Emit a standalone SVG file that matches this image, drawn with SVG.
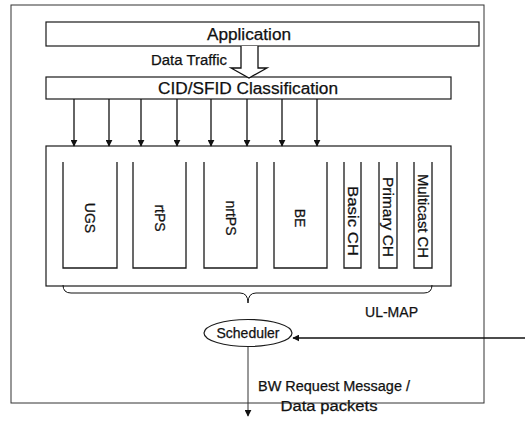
<svg xmlns="http://www.w3.org/2000/svg" width="525" height="426" viewBox="0 0 525 426">
<style>
.box{fill:#fff;stroke:#1a1a1a;stroke-width:1.2}
.bk{fill:none;stroke:#1a1a1a;stroke-width:1.3}
.ln{fill:none;stroke:#111;stroke-width:1.3}
text{font-family:"Liberation Sans",Arial,sans-serif;fill:#111;stroke:#111;stroke-width:0.25}
.t16{font-size:16px}
.t14{font-size:14px}
.vt{font-size:14px;text-anchor:middle;dominant-baseline:central}
</style>
<defs>
<marker id="ah" viewBox="0 0 10 10" refX="9" refY="5" markerWidth="7" markerHeight="7" markerUnits="userSpaceOnUse" orient="auto">
<path d="M0,0 L10,5 L0,10 z" fill="#111"/>
</marker>
</defs>
<rect width="525" height="426" fill="#fff"/>
<g id="outer"><rect class="box" x="11" y="5" width="473" height="398" style="stroke:#333;stroke-width:1"/></g>
<g id="application"><rect class="box" x="46" y="22" width="433" height="24"/><text class="t16" x="249" y="40" text-anchor="middle" textLength="84" lengthAdjust="spacingAndGlyphs">Application</text></g>
<g id="classification"><rect class="box" x="46" y="77" width="405" height="22"/><text class="t16" x="248" y="94" text-anchor="middle" textLength="180" lengthAdjust="spacingAndGlyphs">CID/SFID Classification</text></g>
<g id="queues">
<rect class="box" x="46" y="146" width="405" height="140"/>
<g id="ugs"><path class="bk" d="M63,162 V268 H117 V162"/><text class="vt" transform="translate(90,218) rotate(90)">UGS</text></g>
<g id="rtps"><path class="bk" d="M133,162 V268 H186 V162"/><text class="vt" transform="translate(160,218) rotate(90)">rtPS</text></g>
<g id="nrtps"><path class="bk" d="M204,162 V268 H257 V162"/><text class="vt" transform="translate(231,218) rotate(90)">nrtPS</text></g>
<g id="be"><path class="bk" d="M274,162 V268 H327 V162"/><text class="vt" transform="translate(300,218) rotate(90)">BE</text></g>
<g id="basic"><path class="bk" d="M344,162 V268 H361 V162"/><text class="vt" transform="translate(353,221) rotate(90)" textLength="70" lengthAdjust="spacingAndGlyphs">Basic CH</text></g>
<g id="primary"><path class="bk" d="M379,162 V268 H397 V162"/><text class="vt" transform="translate(388,217) rotate(90)" textLength="80" lengthAdjust="spacingAndGlyphs">Primary CH</text></g>
<g id="multicast"><path class="bk" d="M414,162 V268 H432 V162"/><text class="vt" transform="translate(423,216) rotate(90)" textLength="84" lengthAdjust="spacingAndGlyphs">Multicast CH</text></g>
</g>
<g id="scheduler"><ellipse class="box" cx="248" cy="333" rx="44" ry="13.5"/><text class="t14" x="248" y="338" text-anchor="middle">Scheduler</text></g>
<g id="connectors">
<path d="M241,46 V68 H231 L249,78 L267,68 H258 V46" fill="#fff" stroke="#111" stroke-width="1.3"/>
<g class="ln" marker-end="url(#ah)">
<line x1="74" y1="99" x2="74" y2="146"/>
<line x1="109" y1="99" x2="109" y2="146"/>
<line x1="141" y1="99" x2="141" y2="146"/>
<line x1="177" y1="99" x2="177" y2="146"/>
<line x1="211" y1="99" x2="211" y2="146"/>
<line x1="247" y1="99" x2="247" y2="146"/>
<line x1="282" y1="99" x2="282" y2="146"/>
<line x1="317" y1="99" x2="317" y2="146"/>
<line x1="525" y1="338" x2="293" y2="338"/>
<line x1="248" y1="347" x2="248" y2="416" style="stroke:#333;stroke-width:1"/>
</g>
<path class="ln" style="stroke-width:1" d="M63,285 Q63,293 71,293 L240,293 Q248,293 248,303 Q248,293 256,293 L424,293 Q432,293 432,285"/>
</g>
<g id="labels">
<text class="t14" x="151" y="65" textLength="76" lengthAdjust="spacingAndGlyphs">Data Traffic</text>
<text class="t14" x="365" y="317" textLength="53" lengthAdjust="spacingAndGlyphs">UL-MAP</text>
<text class="t14" x="258" y="391" textLength="152" lengthAdjust="spacingAndGlyphs">BW Request Message /</text>
<text class="t14" x="329" y="411" text-anchor="middle" textLength="97" lengthAdjust="spacingAndGlyphs">Data packets</text>
</g>
</svg>
